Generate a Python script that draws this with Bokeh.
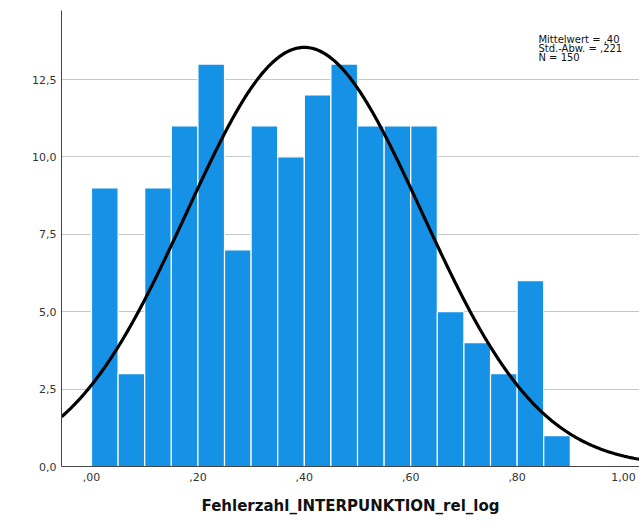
import numpy as np
from bokeh.plotting import figure
from bokeh.models import FixedTicker, CustomJSTickFormatter, Label, Range1d
from bokeh.embed import file_html
from bokeh.resources import INLINE

# --- data ---
bin_left = [0.00, 0.05, 0.10, 0.15, 0.20, 0.25, 0.30, 0.35, 0.40,
            0.45, 0.50, 0.55, 0.60, 0.65, 0.70, 0.75, 0.80, 0.85]
counts = [9, 3, 9, 11, 13, 7, 11, 10, 12, 13, 11, 11, 11, 5, 4, 3, 6, 1]
bin_width = 0.05
mean_val = 0.40
sd_val = 0.221
n_val = 150
x_ticks = [0.0, 0.2, 0.4, 0.6, 0.8, 1.0]
y_ticks = [0.0, 2.5, 5.0, 7.5, 10.0, 12.5]
stats_lines = ["Mittelwert = ,40", "Std.-Abw. = ,221", "N = 150"]
x_title = "Fehlerzahl_INTERPUNKTION_rel_log"

x_start, x_end = -0.0564, 1.030
y_start, y_end = 0.0, 14.73

p = figure(width=639, height=523, output_backend="svg", toolbar_location=None,
           x_range=Range1d(x_start, x_end), y_range=Range1d(y_start, y_end),
           min_border_left=61, min_border_right=0, min_border_top=10,
           min_border_bottom=57)
p.outline_line_color = None
p.background_fill_color = "white"
p.border_fill_color = "white"

# bars
lefts = np.array(bin_left)
p.quad(left=lefts, right=lefts + bin_width, bottom=0, top=counts,
       fill_color="#1591e6", line_color="white", line_width=1.2)

# normal curve
xs = np.linspace(x_start, x_end, 400)
ys = n_val * bin_width / (sd_val * np.sqrt(2 * np.pi)) * np.exp(-0.5 * ((xs - mean_val) / sd_val) ** 2)
p.line(xs, ys, line_color="black", line_width=3.2)

# grid
p.xgrid.visible = False
p.ygrid.grid_line_color = "#c8c8c8"
p.ygrid.grid_line_width = 1
p.ygrid.ticker = FixedTicker(ticks=y_ticks)

# axes
for ax in (p.xaxis[0], p.yaxis[0]):
    ax.axis_line_color = "#444444"
    ax.axis_line_width = 1
    ax.major_tick_line_color = None
    ax.minor_tick_line_color = None
    ax.major_tick_out = 0
    ax.major_tick_in = 0
    ax.minor_tick_out = 0
    ax.major_label_text_font = "DejaVu Sans"
    ax.major_label_text_font_size = "11px"
    ax.major_label_text_color = "#333333"

p.xaxis.ticker = FixedTicker(ticks=x_ticks)
p.yaxis.ticker = FixedTicker(ticks=y_ticks)
p.xaxis.formatter = CustomJSTickFormatter(code="""
    let s = tick.toFixed(2).replace('.', ',');
    if (s.startsWith('0,')) { s = s.substring(1); }
    return s;
""")
p.yaxis.formatter = CustomJSTickFormatter(code="return tick.toFixed(1).replace('.', ',');")
p.xaxis.major_label_standoff = 6
p.yaxis.major_label_standoff = 5

p.xaxis.axis_label = x_title
p.xaxis.axis_label_text_font = "DejaVu Sans"
p.xaxis.axis_label_text_font_style = "bold"
p.xaxis.axis_label_text_font_size = "15px"
p.xaxis.axis_label_text_color = "#111111"
p.xaxis.axis_label_standoff = 13

# stats text
stat_y = [13.79, 13.50, 13.21]
for txt, yy in zip(stats_lines, stat_y):
    p.add_layout(Label(x=0.840, y=yy, text=txt, text_font="DejaVu Sans",
                       text_font_size="10px", text_color="#111111",
                       text_baseline="alphabetic", text_align="left"))

html = file_html(p, INLINE)
open("out.html", "w").write(html)
